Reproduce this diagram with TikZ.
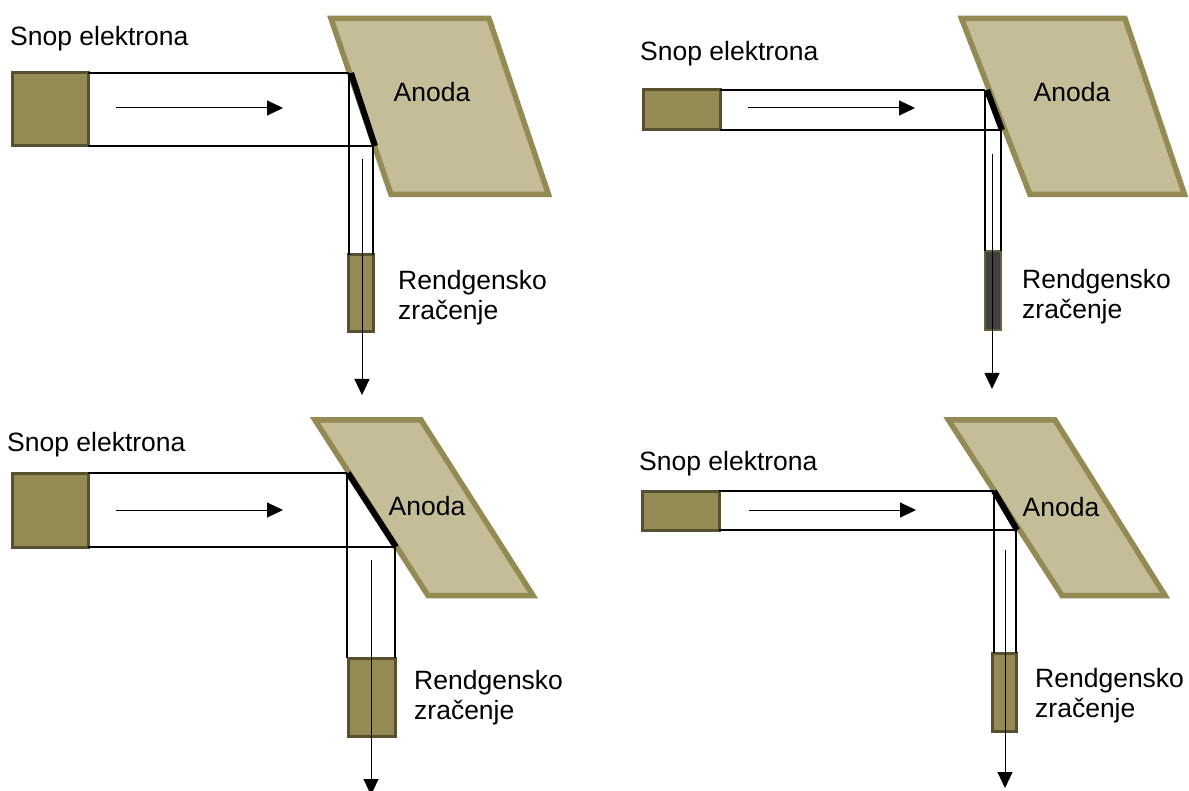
\documentclass[tikz,border=0pt]{standalone}
\usepackage{fontspec}
\setmainfont{Liberation Sans}
\usetikzlibrary{arrows.meta}
\definecolor{olv}{HTML}{948A54}
\definecolor{olvd}{HTML}{574F2E}
\definecolor{tan}{HTML}{C4BD97}
\tikzset{
  x=1pt,y=-1pt,
  anode/.style={fill=tan,draw=olv,line width=5.5pt,miter limit=10},
  srcbox/.style={fill=olv,draw=olvd,line width=3pt,inner sep=0pt,outer sep=0pt},
  darkbox/.style={fill=black!75,draw=olv!70!black,line width=1.5pt,inner sep=0pt,outer sep=0pt},
  beam/.style={draw=black,line width=1.6pt},
  target/.style={draw=black,line width=6pt},
  flow/.style={draw=black,line width=1pt,-{Triangle[length=16pt,width=15pt]}},
  lbl/.style={anchor=base west,inner sep=0pt,font=\fontsize{26.5}{30}\selectfont},
  lblc/.style={anchor=base,inner sep=0pt,font=\fontsize{26.5}{30}\selectfont}
}
\newcommand{\bx}[6]{\node[#1,minimum width=#5-#3,minimum height=#6-#4] (#2) at ({(#3+#5)/2},{(#4+#6)/2}) {};}
\begin{document}
\begin{tikzpicture}
\useasboundingbox (0,0) rectangle (1189,791);
% ---- panel 1
\draw[anode] (331,18.5) -- (489,18.5) -- (548.5,194.5) -- (391,194.5) -- cycle;
\coordinate (a1) at (349,73); \coordinate (b1) at (373,146);
\coordinate (c1) at (349,255); \coordinate (d1) at (373,255);
\coordinate (k1) at (351,73); \coordinate (l1) at (375,146);
\bx{srcbox}{s1}{12}{73}{88}{146}
\bx{srcbox}{r1}{348}{255}{373}{332}
\draw[beam] (s1.north east) -- (a1); \draw[beam] (s1.south east) -- (b1);
\draw[beam] (a1) -- (c1); \draw[beam] (b1) -- (d1);
\draw[target] (k1) -- (l1);
\coordinate (e1) at (116,108); \coordinate (f1) at (283,108);
\coordinate (g1) at (362,159); \coordinate (h1) at (362,395);
\draw[flow] (e1) -- (f1); \draw[flow] (g1) -- (h1);
\node[lbl] (t1a) at (10,46) {Snop elektrona};
\node[lblc] (t1b) at (432,102) {Anoda};
\node[lbl] (t1c) at (398,290) {Rendgensko};
\node[lbl] (t1d) at (398,320) {zračenje};
% ---- panel 2
\draw[anode] (961.5,18.5) -- (1125,18.5) -- (1184.5,194.5) -- (1030,194.5) -- cycle;
\coordinate (a2) at (985,90); \coordinate (b2) at (1001,130);
\coordinate (c2) at (985,251); \coordinate (d2) at (1001,251);
\coordinate (k2) at (987,90); \coordinate (l2) at (1002,130);
\bx{srcbox}{s2}{643}{90}{720}{130}
\bx{darkbox}{r2}{985}{251}{1001}{330}
\draw[beam] (s2.north east) -- (a2); \draw[beam] (s2.south east) -- (b2);
\draw[beam] (a2) -- (c2); \draw[beam] (b2) -- (d2);
\draw[target] (k2) -- (l2);
\coordinate (e2) at (748,108); \coordinate (f2) at (915,108);
\coordinate (g2) at (992,154); \coordinate (h2) at (992,389);
\draw[flow] (e2) -- (f2); \draw[flow] (g2) -- (h2);
\node[lbl] (t2a) at (640,61) {Snop elektrona};
\node[lblc] (t2b) at (1072,102) {Anoda};
\node[lbl] (t2c) at (1022,289) {Rendgensko};
\node[lbl] (t2d) at (1022,319) {zračenje};
% ---- panel 3
\draw[anode] (315,420) -- (421,420) -- (533,595.5) -- (428,595.5) -- cycle;
\coordinate (a3) at (347,473); \coordinate (b3) at (395,547);
\coordinate (c3) at (347,658); \coordinate (d3) at (395,658);
\coordinate (k3) at (348,473); \coordinate (l3) at (396,547);
\bx{srcbox}{s3}{12}{473}{88}{547}
\bx{srcbox}{r3}{348}{658}{395}{736}
\draw[beam] (s3.north east) -- (a3); \draw[beam] (s3.south east) -- (b3);
\draw[beam] (a3) -- (c3); \draw[beam] (b3) -- (d3);
\draw[target] (k3) -- (l3);
\coordinate (e3) at (116,510); \coordinate (f3) at (283,510);
\coordinate (g3) at (371,560); \coordinate (h3) at (371,795);
\draw[flow] (e3) -- (f3); \draw[flow] (g3) -- (h3);
\node[lbl] (t3a) at (7,452) {Snop elektrona};
\node[lblc] (t3b) at (427,515) {Anoda};
\node[lbl] (t3c) at (414,689) {Rendgensko};
\node[lbl] (t3d) at (414,719) {zračenje};
% ---- panel 4
\draw[anode] (948.5,420) -- (1055,420) -- (1165,595.5) -- (1062,595.5) -- cycle;
\coordinate (a4) at (994,491); \coordinate (b4) at (1016,530);
\coordinate (c4) at (994,653); \coordinate (d4) at (1016,653);
\coordinate (k4) at (994,491); \coordinate (l4) at (1017,530);
\bx{srcbox}{s4}{642}{491}{719}{530}
\bx{srcbox}{r4}{992}{653}{1016}{731}
\draw[beam] (s4.north east) -- (a4); \draw[beam] (s4.south east) -- (b4);
\draw[beam] (a4) -- (c4); \draw[beam] (b4) -- (d4);
\draw[target] (k4) -- (l4);
\coordinate (e4) at (749,510); \coordinate (f4) at (916,510);
\coordinate (g4) at (1005,550); \coordinate (h4) at (1005,788);
\draw[flow] (e4) -- (f4); \draw[flow] (g4) -- (h4);
\node[lbl] (t4a) at (639,471) {Snop elektrona};
\node[lblc] (t4b) at (1061,516) {Anoda};
\node[lbl] (t4c) at (1035,687) {Rendgensko};
\node[lbl] (t4d) at (1035,717) {zračenje};
\end{tikzpicture}
\end{document}
